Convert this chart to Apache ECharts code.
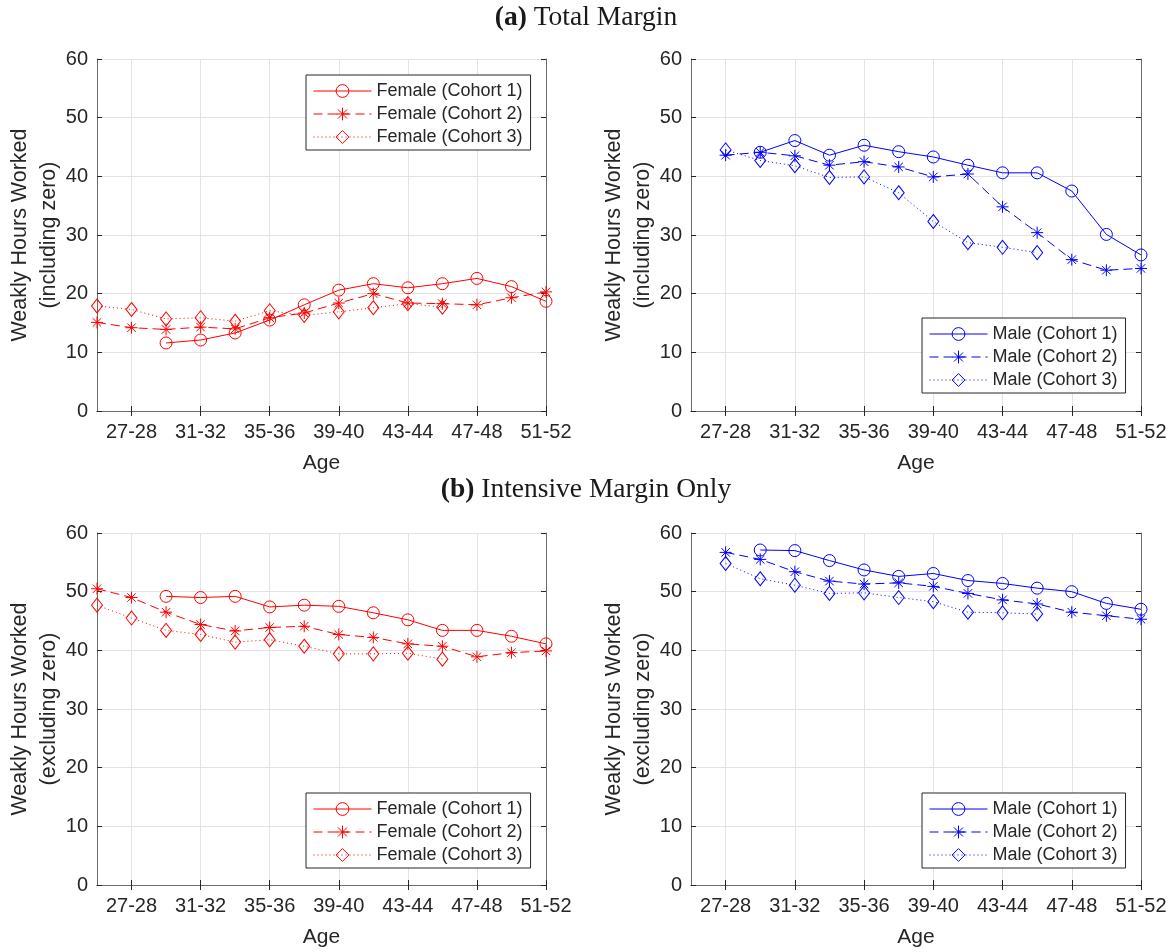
<!DOCTYPE html>
<html lang="en">
  <head>
    <meta charset="UTF-8" />
    <title>Weekly hours worked by cohort</title>
    <style>
      * {
        margin: 0;
        padding: 0;
        box-sizing: border-box;
      }
      #main {
        width: 1172px;
        height: 952px;
        background-color: #fff;
      }
    </style>
  </head>
  <body>
    <div id="main"></div>
    <script src="https://cdn.jsdelivr.net/npm/echarts@6.0.0/dist/echarts.min.js"></script>
    <script>
      // age groups on the x axis (only every other one gets a label)
      const ageGroups = [
        "25-26", "27-28", "29-30", "31-32", "33-34", "35-36", "37-38",
        "39-40", "41-42", "43-44", "45-46", "47-48", "49-50", "51-52",
      ];

      // (a) total margin, hours including zero
      const femaleTotalC1 = [null, null, 11.6, 12.1, 13.3, 15.5, 18.1, 20.6, 21.7, 21.0, 21.7, 22.6, 21.2, 18.7];
      const femaleTotalC2 = [15.1, 14.2, 13.9, 14.3, 14.0, 15.9, 16.7, 18.4, 20.0, 18.4, 18.3, 18.1, 19.3, 20.3];
      const femaleTotalC3 = [17.9, 17.3, 15.7, 15.9, 15.3, 17.1, 16.3, 16.9, 17.6, 18.3, 17.7, null, null, null];
      const maleTotalC1 = [null, null, 44.1, 46.1, 43.6, 45.3, 44.2, 43.3, 41.9, 40.6, 40.6, 37.5, 30.1, 26.6];
      const maleTotalC2 = [null, 43.6, 44.1, 43.5, 41.9, 42.5, 41.6, 39.9, 40.4, 34.8, 30.4, 25.8, 24.0, 24.3];
      const maleTotalC3 = [null, 44.5, 42.7, 41.8, 39.8, 39.9, 37.2, 32.3, 28.7, 27.9, 27.0, null, null, null];

      // (b) intensive margin, hours excluding zero
      const femaleIntC1 = [null, null, 49.2, 49.0, 49.2, 47.4, 47.7, 47.5, 46.4, 45.2, 43.4, 43.4, 42.4, 41.1];
      const femaleIntC2 = [50.5, 49.0, 46.5, 44.4, 43.3, 43.9, 44.1, 42.7, 42.2, 41.1, 40.7, 38.9, 39.6, 39.9];
      const femaleIntC3 = [47.7, 45.5, 43.4, 42.7, 41.4, 41.8, 40.7, 39.4, 39.4, 39.5, 38.5, null, null, null];
      const maleIntC1 = [null, null, 57.1, 57.0, 55.3, 53.7, 52.6, 53.1, 51.9, 51.4, 50.6, 50.0, 48.0, 47.0];
      const maleIntC2 = [null, 56.7, 55.5, 53.4, 51.8, 51.3, 51.5, 50.9, 49.7, 48.6, 47.9, 46.5, 45.9, 45.3];
      const maleIntC3 = [null, 54.8, 52.2, 51.1, 49.7, 49.8, 49.0, 48.3, 46.5, 46.4, 46.2, null, null, null];

      const femaleNames = ["Female (Cohort 1)", "Female (Cohort 2)", "Female (Cohort 3)"];
      const maleNames = ["Male (Cohort 1)", "Male (Cohort 2)", "Male (Cohort 3)"];

      const TEXT = "#262626";
      const AXIS = "#6b6b6b";
      const GRID = "#e3e3e3";
      const SANS = "Liberation Sans";
      const SERIF = "Liberation Serif";
      const ASTERISK =
        "path://M0,-6L0,6M-6,0L6,0M-4.24,-4.24L4.24,4.24M-4.24,4.24L4.24,-4.24";

      const panels = [
        { left: 97, top: 59, width: 449, yName: "Weakly Hours Worked\n(including zero)",
          names: femaleNames, color: "#ff0000", data: [femaleTotalC1, femaleTotalC2, femaleTotalC3],
          legend: { left: 306, top: 75 } },
        { left: 691, top: 59, width: 450, yName: "Weakly Hours Worked\n(including zero)",
          names: maleNames, color: "#0000ff", data: [maleTotalC1, maleTotalC2, maleTotalC3],
          legend: { left: 922, top: 318 } },
        { left: 97, top: 533, width: 449, yName: "Weakly Hours Worked\n(excluding zero)",
          names: femaleNames, color: "#ff0000", data: [femaleIntC1, femaleIntC2, femaleIntC3],
          legend: { left: 306, top: 793 } },
        { left: 691, top: 533, width: 450, yName: "Weakly Hours Worked\n(excluding zero)",
          names: maleNames, color: "#0000ff", data: [maleIntC1, maleIntC2, maleIntC3],
          legend: { left: 922, top: 793 } },
      ];

      const cohortStyle = [
        { symbol: "circle", symbolSize: 12, type: "solid" },
        { symbol: ASTERISK, symbolSize: 12, type: [9, 5] },
        { symbol: "diamond", symbolSize: [11, 14], type: [1, 3] },
      ];

      const everyOther = (index) => index % 2 === 1;

      const grid = [];
      const xAxis = [];
      const yAxis = [];
      const series = [];
      const legend = [];

      panels.forEach((p, g) => {
        grid.push({
          left: p.left, top: p.top, width: p.width, height: 352,
          containLabel: false, outerBoundsMode: "none",
        });
        const tick = { show: true, inside: true, length: 5, interval: everyOther, lineStyle: { color: TEXT } };
        xAxis.push({
          type: "category", gridIndex: g, data: ageGroups, boundaryGap: false, position: "bottom",
          name: "Age", nameLocation: "middle", nameGap: 42, nameMoveOverlap: false,
          nameTextStyle: { fontFamily: SANS, fontSize: 21, color: TEXT },
          axisLine: { show: true, lineStyle: { color: AXIS, width: 1 } },
          axisTick: tick,
          axisLabel: { interval: everyOther, margin: 11, fontFamily: SANS, fontSize: 20, color: TEXT },
          splitLine: { show: true, interval: everyOther, lineStyle: { color: GRID, width: 1 } },
        });
        xAxis.push({
          type: "category", gridIndex: g, data: ageGroups, boundaryGap: false, position: "top",
          axisLine: { show: true, lineStyle: { color: AXIS, width: 1 } },
          axisTick: tick, axisLabel: { show: false }, splitLine: { show: false },
        });
        yAxis.push({
          type: "value", gridIndex: g, min: 0, max: 60, interval: 10, position: "left",
          name: p.yName, nameLocation: "middle", nameRotate: 90, nameGap: 34, nameMoveOverlap: false,
          nameTextStyle: { fontFamily: SANS, fontSize: 21.5, lineHeight: 28.5, color: TEXT },
          axisLine: { show: true, lineStyle: { color: AXIS, width: 1 } },
          axisTick: { show: true, inside: true, length: 5, lineStyle: { color: TEXT } },
          axisLabel: { margin: 9, fontFamily: SANS, fontSize: 20, color: TEXT },
          splitLine: { show: true, lineStyle: { color: GRID, width: 1 } },
        });
        yAxis.push({
          type: "value", gridIndex: g, min: 0, max: 60, interval: 10, position: "right",
          axisLine: { show: true, lineStyle: { color: AXIS, width: 1 } },
          axisTick: { show: true, inside: true, length: 5, lineStyle: { color: TEXT } },
          axisLabel: { show: false }, splitLine: { show: false },
        });

        p.data.forEach((values, k) => {
          const s = cohortStyle[k];
          series.push({
            name: p.names[k], type: "line", xAxisIndex: 2 * g, yAxisIndex: 2 * g,
            data: values, symbol: s.symbol, symbolSize: s.symbolSize, showSymbol: true,
            clip: false, connectNulls: false, animation: false,
            lineStyle: { color: p.color, width: 1, type: s.type },
            itemStyle: { color: "rgba(255,255,255,0)", borderColor: p.color, borderWidth: 1 },
            emphasis: { disabled: true },
          });
        });

        legend.push({
          orient: "vertical", left: p.legend.left, top: p.legend.top,
          data: p.names.map((name, k) => ({
            name,
            itemStyle: { color: "rgba(255,255,255,0)", borderColor: p.color, borderWidth: 1 },
            lineStyle: { color: p.color, width: 1, type: cohortStyle[k].type },
          })),
          backgroundColor: "#fff", borderColor: TEXT, borderWidth: 1, borderRadius: 0,
          padding: [7, 8, 4, 7], itemGap: 5, itemWidth: 58, itemHeight: 16,
          textStyle: { fontFamily: SANS, fontSize: 18, color: TEXT },
          selectedMode: false,
        });
      });

      const titleStyle = {
        fontFamily: SERIF, fontSize: 27.5, fontWeight: "normal", color: "#1a1a1a",
        rich: { b: { fontFamily: SERIF, fontSize: 27.5, fontWeight: "bold", color: "#1a1a1a" } },
      };

      const option = {
        backgroundColor: "#fff",
        animation: false,
        title: [
          { text: "{b|(a)} Total Margin", left: "center", top: 4, padding: 0, textStyle: titleStyle },
          { text: "{b|(b)} Intensive Margin Only", left: "center", top: 476, padding: 0, textStyle: titleStyle },
        ],
        legend,
        grid,
        xAxis,
        yAxis,
        series,
      };

      const myChart = echarts.init(document.getElementById("main"));
      myChart.setOption(option);
    </script>
  </body>
</html>
